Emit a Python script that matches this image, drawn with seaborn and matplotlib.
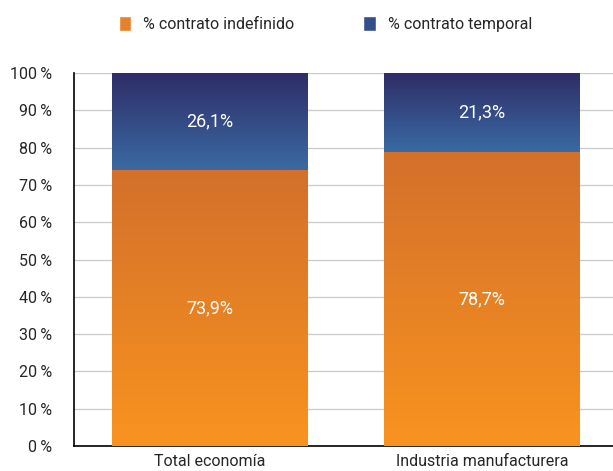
import numpy as np
import pandas as pd
import matplotlib
matplotlib.use("Agg")
import matplotlib.pyplot as plt
import seaborn as sns
from matplotlib.colors import LinearSegmentedColormap
from matplotlib.patches import Patch

categories = ["Total economía", "Industria manufacturera"]
indefinido = [73.9, 78.7]
temporal = [26.1, 21.3]
series_names = ["% contrato indefinido", "% contrato temporal"]

sns.set_style("white")
plt.rcParams["font.family"] = ["Roboto", "DejaVu Sans"]

df = pd.DataFrame({"cat": categories, "indef": indefinido,
                   "total": np.add(indefinido, temporal)})

fig = plt.figure(figsize=(6.13, 4.71), dpi=100)
ax = fig.add_axes([74 / 613, 25 / 471, 544 / 613, 373 / 471])

sns.barplot(data=df, x="cat", y="total", color="#33558f", width=0.72,
            saturation=1, ax=ax, zorder=2)
sns.barplot(data=df, x="cat", y="indef", color="#e5812a", width=0.72,
            saturation=1, ax=ax, zorder=3)

# vertical gradients like the original
orange = LinearSegmentedColormap.from_list("o", ["#f9931f", "#d3702b"])
blue = LinearSegmentedColormap.from_list("b", ["#3a6aa3", "#2f2c66"])
grad = np.linspace(0, 1, 256).reshape(-1, 1)

n = len(categories)
for i, p in enumerate(ax.patches):
    x0, y0 = p.get_x(), p.get_y()
    w, h = p.get_width(), p.get_height()
    if i < n:
        ax.imshow(grad, cmap=blue, aspect="auto", origin="lower",
                  extent=[x0, x0 + w, indefinido[i], y0 + h], zorder=2)
    else:
        ax.imshow(grad, cmap=orange, aspect="auto", origin="lower",
                  extent=[x0, x0 + w, y0, y0 + h], zorder=3)
    p.set_visible(False)

for i in range(n):
    ax.text(i, indefinido[i] / 2, f"{indefinido[i]:.1f}%".replace(".", ","),
            ha="center", va="center", color="white", fontsize=13, zorder=5)
    ax.text(i, indefinido[i] + temporal[i] / 2,
            f"{temporal[i]:.1f}%".replace(".", ","),
            ha="center", va="center", color="white", fontsize=13, zorder=5)

ax.set_xlim(-0.5, 1.5)
ax.set_ylim(0, 100)
ax.set_yticks(np.arange(0, 101, 10))
ax.set_yticklabels([f"{v}\u2009%" for v in range(0, 101, 10)], fontsize=11.5)
ax.set_xticks([-0.5, 0.5, 1.5], minor=False)
ax.set_xticklabels([])
ax.set_xticks([0, 1], minor=True)
ax.set_xticklabels(categories, minor=True, fontsize=11.5)
ax.tick_params(axis="x", which="minor", length=0, pad=6)
ax.tick_params(axis="x", which="major", length=5, width=1, direction="out", color="black")
ax.tick_params(axis="y", length=4, width=1.2, direction="in", color="black", pad=16)
ax.set_xlabel("")
ax.set_ylabel("")
ax.yaxis.grid(True, color="#cccccc", linewidth=1, zorder=0)
ax.set_axisbelow(True)
for s in ["top", "right"]:
    ax.spines[s].set_visible(False)
for s in ["left", "bottom"]:
    ax.spines[s].set_color("black")
    ax.spines[s].set_linewidth(1.2)

handles = [Patch(facecolor="#e5812a"), Patch(facecolor="#33508a")]
fig.legend(handles, series_names, loc="center", bbox_to_anchor=(0.531, 0.949),
           ncol=2, frameon=False, fontsize=11.5, handlelength=0.8,
           handleheight=1.0, columnspacing=4.3, handletextpad=0.75)

fig.savefig("out.png", dpi=100)
